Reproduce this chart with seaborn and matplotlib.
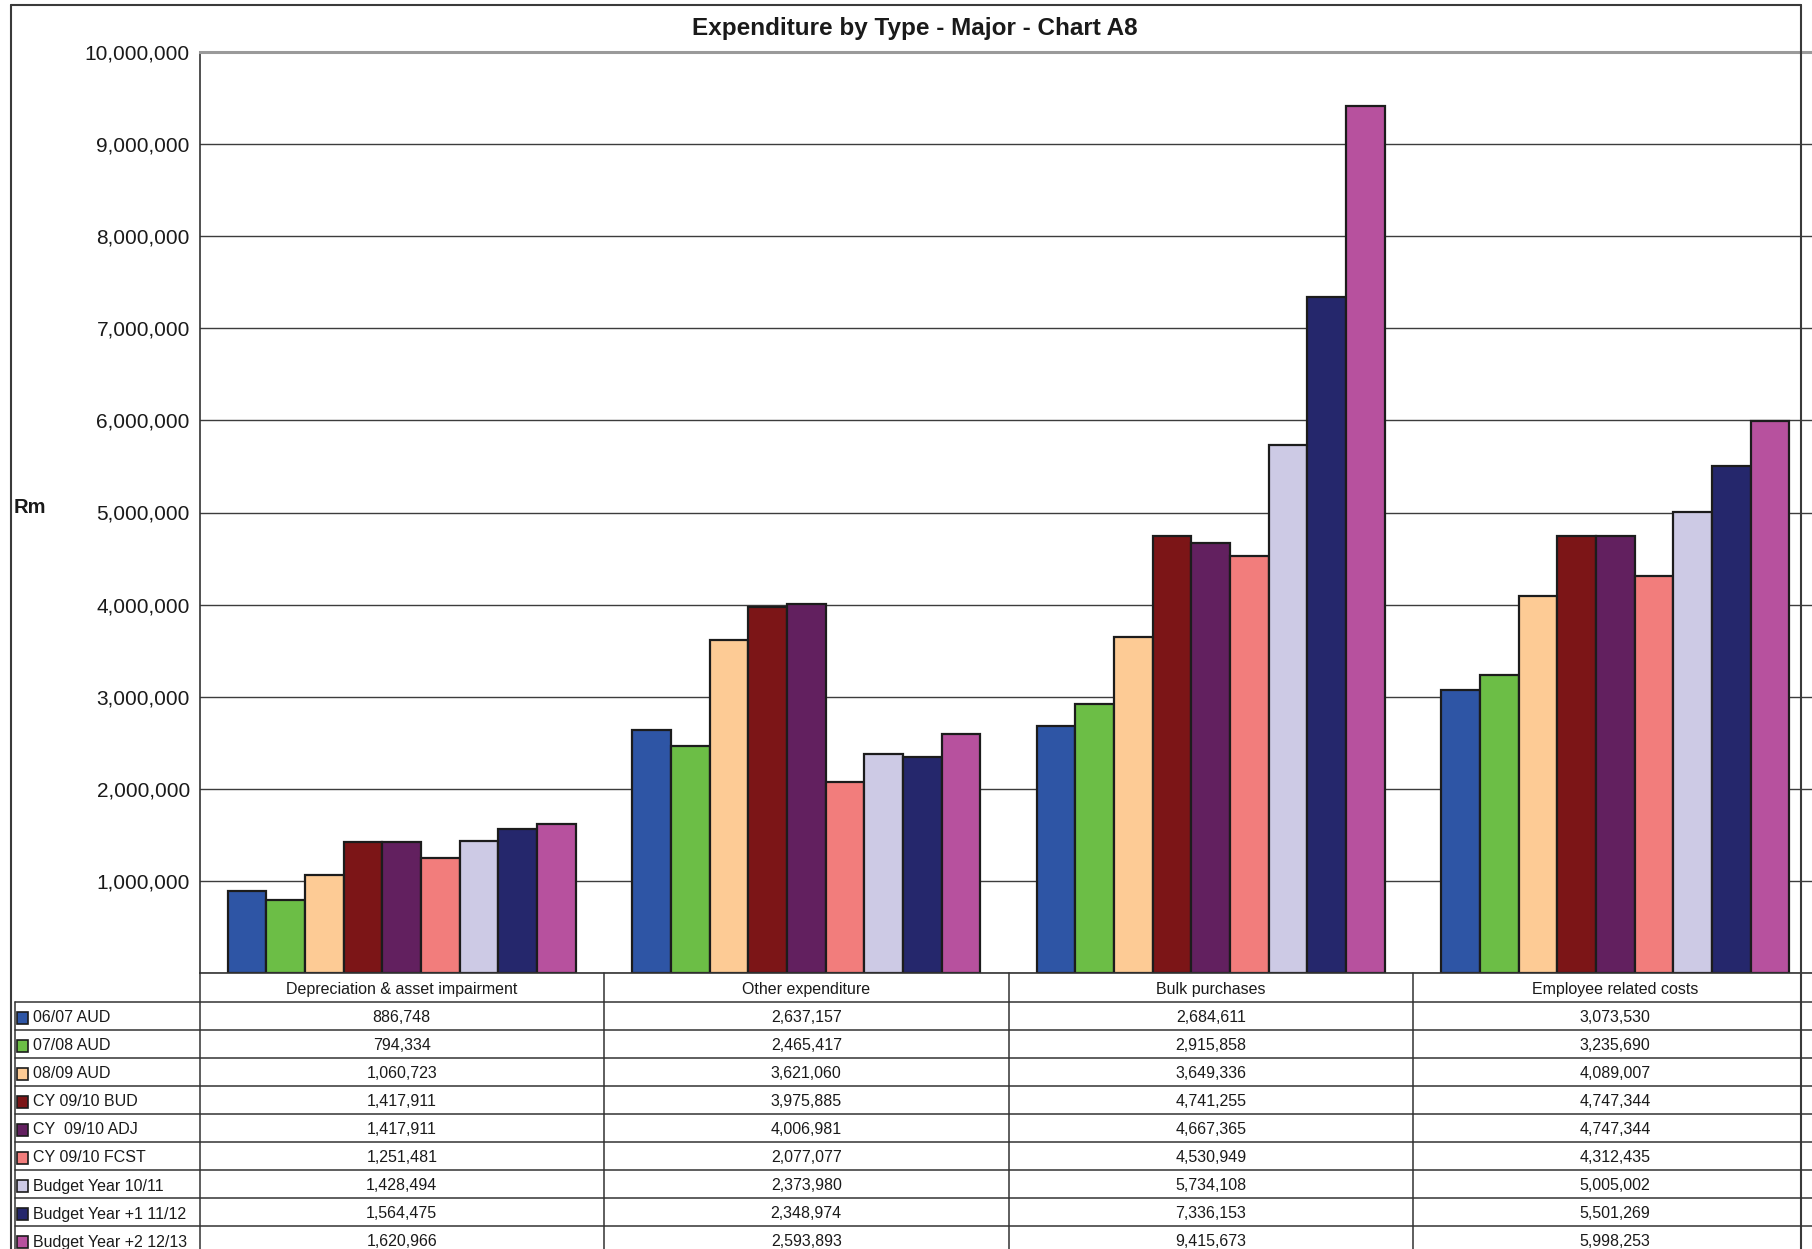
import numpy as np
import pandas as pd
import seaborn as sns
import matplotlib
matplotlib.use("Agg")
import matplotlib.pyplot as plt
from matplotlib.lines import Line2D
from matplotlib.patches import Rectangle
from matplotlib.transforms import blended_transform_factory
from matplotlib.ticker import FuncFormatter

# ---- data -------------------------------------------------------------
categories = ["Depreciation & asset impairment", "Other expenditure",
              "Bulk purchases", "Employee related costs"]
series = ["06/07 AUD", "07/08 AUD", "08/09 AUD", "CY 09/10 BUD",
          "CY  09/10 ADJ", "CY 09/10 FCST", "Budget Year 10/11",
          "Budget Year +1 11/12", "Budget Year +2 12/13"]

aud_0607 = [886748, 2637157, 2684611, 3073530]
aud_0708 = [794334, 2465417, 2915858, 3235690]
aud_0809 = [1060723, 3621060, 3649336, 4089007]
cy_bud = [1417911, 3975885, 4741255, 4747344]
cy_adj = [1417911, 4006981, 4667365, 4747344]
cy_fcst = [1251481, 2077077, 4530949, 4312435]
budget_1011 = [1428494, 2373980, 5734108, 5005002]
budget_1112 = [1564475, 2348974, 7336153, 5501269]
budget_1213 = [1620966, 2593893, 9415673, 5998253]

values = [aud_0607, aud_0708, aud_0809, cy_bud, cy_adj, cy_fcst,
          budget_1011, budget_1112, budget_1213]

colors = ["#2E55A5", "#6CBE46", "#FDCB95", "#7C1517", "#62205F",
          "#F27D7C", "#CDCAE5", "#25276C", "#B7519E"]

yticks = list(range(0, 10_000_001, 1_000_000))

df = pd.DataFrame(
    [(cat, s, v[i]) for s, v in zip(series, values) for i, cat in enumerate(categories)],
    columns=["category", "series", "value"],
)

# ---- figure -----------------------------------------------------------
W, H, DPI = 1812, 1249, 100
sns.set_style("white")
plt.rcParams["font.family"] = ["Liberation Sans", "DejaVu Sans"]
TXT = "#1a1a1a"
LINE = "#333333"

fig = plt.figure(figsize=(W / DPI, H / DPI), dpi=DPI)
fig.patch.set_facecolor("white")


def fx(x):
    return x / W


def fy(y):
    return 1 - y / H


ax_left, ax_right, ax_top, ax_bottom = 199.5, 1817.5, 52, 973
ax = fig.add_axes([fx(ax_left), fy(ax_bottom), fx(ax_right - ax_left), (ax_bottom - ax_top) / H])

sns.barplot(data=df, x="category", y="value", hue="series",
            order=categories, hue_order=series, palette=colors,
            saturation=1, width=0.86, dodge=True, errorbar=None,
            edgecolor="#1c1c1c", linewidth=1.6, legend=False, ax=ax)

ax.set_xlim(-0.5, len(categories) - 0.5)
ax.set_ylim(0, 10_000_000)
ax.set_yticks(yticks)
ax.yaxis.set_major_formatter(FuncFormatter(lambda v, p: "" if v == 0 else f"{int(v):,}"))
ax.tick_params(axis="y", length=6, width=1, color=LINE, pad=1, labelsize=15, labelcolor=TXT)
ax.set_xticks([])
ax.set_xlabel("")
ax.set_ylabel("")
ax.yaxis.grid(True, color="#3c3c3c", linewidth=1)
ax.set_axisbelow(True)
for side in ("left", "bottom"):
    ax.spines[side].set_color(LINE)
    ax.spines[side].set_linewidth(1.2)
ax.spines["top"].set_color("#9a9a9a")
ax.spines["top"].set_linewidth(2.2)
ax.spines["right"].set_visible(False)

# ---- title and axis label -----------------------------------------------
fig.text(fx(915), fy(28), "Expenditure by Type - Major - Chart A8",
         ha="center", va="center", fontsize=17.5, weight="bold", color=TXT)
fig.text(fx(14), fy(507), "Rm", ha="left", va="center", fontsize=14.5,
         weight="bold", color=TXT)

# ---- outer frame ----------------------------------------------------------
frame_kw = dict(transform=fig.transFigure, color="#3a3a3a", linewidth=1.5)
fig.add_artist(Line2D([fx(11), fx(1801)], [fy(5), fy(5)], **frame_kw))
fig.add_artist(Line2D([fx(11), fx(11)], [fy(5), fy(H)], **frame_kw))
fig.add_artist(Line2D([fx(1801), fx(1801)], [fy(5), fy(H)], **frame_kw))

# ---- data table below the axis ----------------------------------------------
col_tr = blended_transform_factory(ax.transData, fig.transFigure)
header_bottom = 1002
row_h = 28
tbl_kw = dict(color=LINE, linewidth=1.1)
FS = 11.5

for k in range(len(series)):
    y = header_bottom + k * row_h
    fig.add_artist(Line2D([fx(15), 1.0], [fy(y), fy(y)],
                          transform=fig.transFigure, **tbl_kw))
fig.add_artist(Line2D([fx(15), fx(15)], [fy(header_bottom), fy(H)],
                      transform=fig.transFigure, **tbl_kw))
for b in np.arange(len(categories)) - 0.5:
    fig.add_artist(Line2D([b, b], [fy(ax_bottom), fy(H)], transform=col_tr, **tbl_kw))

for i, cat in enumerate(categories):
    fig.text(i, fy((ax_bottom + header_bottom) / 2 + 2), cat, transform=col_tr,
             ha="center", va="center", fontsize=FS, color=TXT)

for k, (name, vals, c) in enumerate(zip(series, values, colors)):
    yc = header_bottom + k * row_h + row_h / 2
    fig.add_artist(Rectangle((fx(17), fy(yc + 8)), fx(11), 12 / H,
                             transform=fig.transFigure, facecolor=c,
                             edgecolor="#1c1c1c", linewidth=1.2))
    fig.text(fx(33), fy(yc + 2), name, ha="left", va="center", fontsize=FS, color=TXT)
    for i, v in enumerate(vals):
        fig.text(i, fy(yc + 1), f"{v:,}", transform=col_tr, ha="center",
                 va="center", fontsize=FS, color=TXT)

fig.savefig("out.png", dpi=DPI, facecolor="white")
